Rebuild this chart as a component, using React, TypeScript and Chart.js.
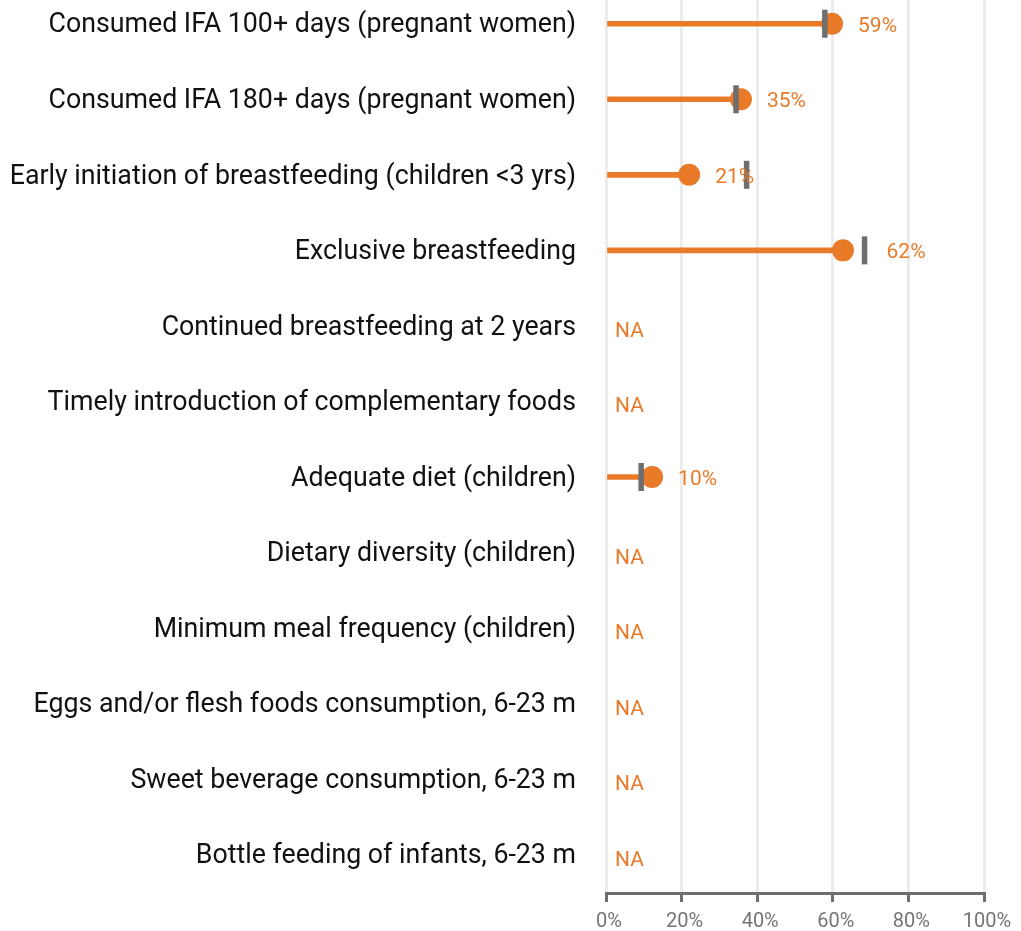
import React, { useEffect, useRef } from "react";
import { Chart, registerables } from "chart.js";

Chart.register(...registerables);

const categories = [
  "Consumed IFA 100+ days (pregnant women)",
  "Consumed IFA 180+ days (pregnant women)",
  "Early initiation of breastfeeding (children <3 yrs)",
  "Exclusive breastfeeding",
  "Continued breastfeeding at 2 years",
  "Timely introduction of complementary foods",
  "Adequate diet (children)",
  "Dietary diversity (children)",
  "Minimum meal frequency (children)",
  "Eggs and/or flesh foods consumption, 6-23 m",
  "Sweet beverage consumption, 6-23 m",
  "Bottle feeding of infants, 6-23 m",
];
const values: (number | null)[] = [59.8, 35.7, 22.0, 62.7, null, null, 12.2, null, null, null, null, null];
const benchmarks: (number | null)[] = [57.9, 34.4, 37.2, 68.4, null, null, 9.3, null, null, null, null, null];
const valueLabels = ["59%", "35%", "21%", "62%", "NA", "NA", "10%", "NA", "NA", "NA", "NA", "NA"];
const xTickValues = [0, 20, 40, 60, 80, 100];

const ORANGE = "#e87a28";
const GREY = "#6e6e6e";

const labelPlugin = {
  id: "valueLabels",
  afterDatasetsDraw(chart: any) {
    const { ctx, scales } = chart;
    const xs = scales.x;
    const ys = scales.y;
    ctx.save();
    ctx.font = "21px Roboto";
    ctx.fillStyle = ORANGE;
    ctx.textAlign = "left";
    ctx.textBaseline = "alphabetic";
    categories.forEach((_, i) => {
      const y = ys.getPixelForValue(i);
      const v = values[i];
      if (v === null) {
        ctx.fillText(valueLabels[i], xs.getPixelForValue(0) + 9, y + 11);
        return;
      }
      const dotPx = xs.getPixelForValue(v);
      let x = dotPx + 26;
      const b = benchmarks[i];
      if (b !== null) {
        const bPx = xs.getPixelForValue(b);
        if (bPx > dotPx && bPx - dotPx < 40) x = Math.max(x, bPx + 22);
      }
      ctx.fillText(valueLabels[i], x, y + 8);
    });
    ctx.restore();
  },
};

export default function App() {
  const ref = useRef<HTMLCanvasElement | null>(null);
  useEffect(() => {
    document.body.style.margin = "0";
    if (!ref.current) return;
    Chart.defaults.font.family = "Roboto";
    const barData = categories
      .map((_, i) => (values[i] === null ? null : { x: values[i] as number, y: i }))
      .filter((d) => d !== null);
    const benchData = categories
      .map((_, i) => (benchmarks[i] === null ? null : { x: benchmarks[i] as number, y: i }))
      .filter((d) => d !== null);
    const chart = new Chart(ref.current, {
      type: "bar",
      data: {
        datasets: [
          {
            type: "line",
            label: "Benchmark",
            data: benchData as any,
            showLine: false,
            pointStyle: "line",
            pointRotation: 90,
            pointRadius: 14,
            pointHoverRadius: 14,
            pointBorderColor: GREY,
            pointBorderWidth: 5.5,
            clip: false,
            order: 1,
          } as any,
          {
            type: "line",
            label: "Value",
            data: barData as any,
            showLine: false,
            pointRadius: 11,
            pointHoverRadius: 11,
            pointBackgroundColor: ORANGE,
            pointBorderWidth: 0,
            clip: false,
            order: 2,
          } as any,
          {
            type: "bar",
            label: "Bar",
            indexAxis: "y",
            data: barData as any,
            backgroundColor: ORANGE,
            barThickness: 5,
            order: 3,
          } as any,
        ],
      },
      options: {
        responsive: false,
        animation: false,
        layout: { autoPadding: false, padding: { left: 0, right: 37, top: 0, bottom: 0 } },
        plugins: { legend: { display: false }, tooltip: { enabled: false } },
        scales: {
          x: {
            type: "linear",
            offset: false,
            min: 0,
            max: 100,
            afterBuildTicks: (scale: any) => {
              scale.ticks = xTickValues.map((v) => ({ value: v }));
            },
            afterFit: (scale: any) => {
              scale.height = 38;
              scale.paddingLeft = 0;
              scale.paddingRight = 0;
            },
            ticks: {
              callback: (v: any) => v + "%",
              color: "#757575",
              font: { size: 20 },
              padding: 8,
              labelOffset: 3,
              maxRotation: 0,
            },
            grid: {
              offset: false,
              color: "#ececec",
              lineWidth: 3,
              tickColor: GREY,
              tickLength: 9,
              drawTicks: true,
            },
            border: { display: true, color: GREY, width: 3 },
          },
          y: {
            type: "linear",
            offset: false,
            reverse: true,
            min: -0.314,
            max: 11.506,
            afterBuildTicks: (scale: any) => {
              scale.ticks = categories.map((_, i) => ({ value: i }));
            },
            afterFit: (scale: any) => {
              scale.width = 606;
              scale.paddingTop = 0;
              scale.paddingBottom = 0;
            },
            ticks: {
              callback: (v: any) => categories[Math.round(v)],
              color: "#111111",
              font: { size: 26.75 },
              padding: 30,
              labelOffset: 2,
              autoSkip: false,
            },
            grid: { display: false, drawTicks: false, offset: false },
            border: { display: false },
          },
        },
      },
      plugins: [labelPlugin],
    });
    return () => chart.destroy();
  }, []);
  return <canvas ref={ref} width={1021} height={931} style={{ display: "block" }} />;
}
